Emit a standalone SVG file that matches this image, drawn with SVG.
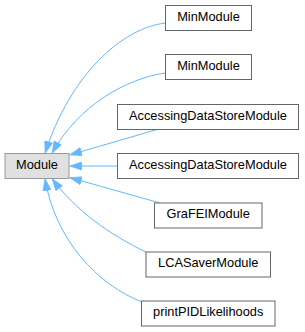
<svg xmlns="http://www.w3.org/2000/svg" width="305" height="332" viewBox="0 0 305 332">
<style>
.n rect{fill:#ffffff;stroke:#666666;stroke-width:1}
.n.base rect{fill:#e0e0e0;stroke:#999999}
.n text{font-family:"Liberation Sans",Arial,sans-serif;font-size:12.8px;fill:#000000;text-anchor:middle}
.e path{fill:none;stroke:#63b8ff;stroke-width:1;marker-end:url(#ah)}
</style>
<defs>
<marker id="ah" viewBox="0 0 12.5 9" refX="12.5" refY="4.5" markerWidth="12.5" markerHeight="9" markerUnits="userSpaceOnUse" orient="auto">
<path d="M0.5,0.5 L12,4.5 L0.5,8.5 z" fill="#63b8ff" stroke="#63b8ff" stroke-width="0.8"/>
</marker>
</defs>
<rect width="305" height="332" fill="#ffffff"/>
<g id="connectors" class="e">
<path d="M165.5,23 C122,28 70,75 45,153.5"/>
<path d="M165.5,73 C128,78 78,105 52,153.5"/>
<path d="M157,129.5 L69.5,155"/>
<path d="M117.5,166 L69.5,166"/>
<path d="M160,203 L69.5,177.5"/>
<path d="M146,252 C110,235 75,210 52,178.5"/>
<path d="M142,302 C98,285 55,240 45,178.5"/>
</g>
<g id="node-Module" class="n base">
<rect x="5" y="153.5" width="64" height="25"/>
<text x="37" y="168.8">Module</text>
</g>
<g id="node-MinModule1" class="n">
<rect x="165.5" y="5.5" width="86" height="25"/>
<text x="208.5" y="20.8">MinModule</text>
</g>
<g id="node-MinModule2" class="n">
<rect x="165.5" y="54.5" width="86" height="25"/>
<text x="208.5" y="69.8">MinModule</text>
</g>
<g id="node-AccessingDataStoreModule1" class="n">
<rect x="117.5" y="104.5" width="181" height="25"/>
<text x="208" y="119.8">AccessingDataStoreModule</text>
</g>
<g id="node-AccessingDataStoreModule2" class="n">
<rect x="117.5" y="153.5" width="181" height="25"/>
<text x="208" y="168.8">AccessingDataStoreModule</text>
</g>
<g id="node-GraFEIModule" class="n">
<rect x="154.5" y="203" width="107.5" height="25"/>
<text x="208.2" y="218.3">GraFEIModule</text>
</g>
<g id="node-LCASaverModule" class="n">
<rect x="146" y="252" width="124.5" height="25"/>
<text x="208.2" y="267.3">LCASaverModule</text>
</g>
<g id="node-printPIDLikelihoods" class="n">
<rect x="141.5" y="301" width="133.5" height="25"/>
<text x="208.2" y="316.3">printPIDLikelihoods</text>
</g>
</svg>
